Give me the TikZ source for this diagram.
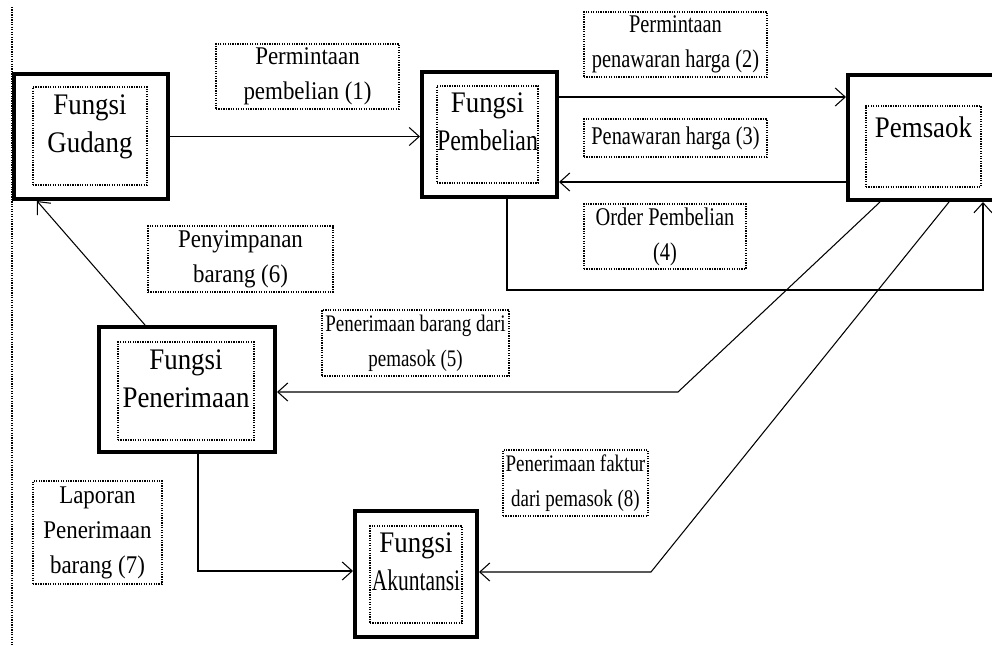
\documentclass[tikz,border=0pt]{standalone}
\usepackage{fontspec}
\setmainfont{Liberation Serif}[FakeStretch=0.9]
\newfontfamily\condensed{Liberation Serif}[FakeStretch=0.8]
\newfontfamily\tight{Liberation Serif}[FakeStretch=0.72]
\usetikzlibrary{arrows.meta,positioning,calc}

\begin{document}
\begin{tikzpicture}[x=0.02cm, y=-0.02cm,
  fungsi/.style={rectangle, draw, line width=2.3pt, inner sep=0pt, minimum height=2.5cm},
  fungsitext/.style={rectangle, draw, line width=0.6pt, dash pattern=on 0.7pt off 0.7pt, inner sep=0pt, align=center, font=\fontsize{17}{21.5}\selectfont},
  note/.style={rectangle, draw, line width=0.6pt, dash pattern=on 0.7pt off 0.7pt, inner sep=0pt, align=center, font=\fontsize{14.5}{19.9}\selectfont},
  message/.style={-{Straight Barb[length=2mm,width=3.6mm]}, line width=0.6pt}
]
\useasboundingbox (0,0) rectangle (992,646);
\clip (0,0) rectangle (992,646);

% Page margin
\draw[line width=0.6pt, dash pattern=on 0.7pt off 0.7pt] (12,7) -- (12,646);

% Functions
\node[fungsi, minimum width=3.08cm] (gudang) at (91,136.5) {};
\node[fungsitext, minimum width=2.28cm, minimum height=1.96cm] (gudangtxt) at (90,136) {Fungsi\\Gudang\\[-7pt]~};

\node[fungsi, minimum width=2.7cm] (pembelian) at (489.5,134.5) {};
\node[fungsitext, minimum width=2.02cm, minimum height=1.94cm] (pembeliantxt) at (487.5,134.5) {Fungsi\\{\condensed Pembelian}\\[-7pt]~};

\node[fungsi, minimum width=3.8cm] (pemsaok) at (943,137.5) {};
\node[fungsitext, minimum width=2.3cm, minimum height=1.62cm] (pemsaoktxt) at (923.5,146.5) {Pemsaok\\~};

\node[fungsi, minimum width=3.52cm] (penerimaan) at (187,389.5) {};
\node[fungsitext, minimum width=2.72cm, minimum height=1.96cm] (penerimaantxt) at (186,391) {Fungsi\\Penerimaan\\[-7pt]~};

\node[fungsi, minimum width=2.44cm, minimum height=2.52cm] (akuntansi) at (416,574) {};
\node[fungsitext, minimum width=1.84cm, minimum height=1.94cm] (akuntansitxt) at (416,574.5) {Fungsi\\{\tight Akuntansi}\\[-7pt]~};

% Notes
\node[note, minimum width=3.66cm, minimum height=1.3cm] (n1) at (307.5,76.5) {Permintaan\\pembelian (1)};
\node[note, minimum width=3.66cm, minimum height=1.3cm, font=\condensed\fontsize{14.5}{19.9}\selectfont] (n2) at (675.5,44.5) {Permintaan\\penawaran harga (2)};
\node[note, minimum width=3.66cm, minimum height=0.76cm, font=\condensed\fontsize{14.5}{19.9}\selectfont] (n3) at (675.5,138) {Penawaran harga (3)};
\node[note, minimum width=3.24cm, minimum height=1.3cm, font=\condensed\fontsize{14.5}{19.9}\selectfont] (n4) at (665,236.5) {Order Pembelian\\(4)};
\node[note, minimum width=3.74cm, minimum height=1.32cm, font=\condensed\fontsize{13.5}{19.9}\selectfont] (n5) at (415.5,343) {Penerimaan barang dari\\pemasok (5)};
\node[note, minimum width=3.7cm, minimum height=1.32cm] (n6) at (240.5,259) {Penyimpanan\\barang (6)};
\node[note, minimum width=2.58cm, minimum height=2.06cm] (n7) at (97.5,532.5) {Laporan\\Penerimaan\\barang (7)};
\node[note, minimum width=2.9cm, minimum height=1.32cm, font=\condensed\fontsize{13.5}{19.9}\selectfont] (n8) at (575.5,483) {Penerimaan faktur\\dari pemasok (8)};

% Bends
\coordinate (a2) at (0,97);
\coordinate (a3) at (0,182);
\coordinate (k4a) at (507,290);
\coordinate (k4b) at (983,290);
\coordinate (s5) at (880,200);
\coordinate (k5) at (678,392);
\coordinate (s6) at (145,328);
\coordinate (e6) at (37,200);
\coordinate (k7) at (198,571);
\coordinate (s8) at (949,200);
\coordinate (k8) at (651,572);

% Flows
\draw[message] (gudang.east) -- (gudang.east -| pembelian.west);
\draw[message] (pembelian.east |- a2) -- (pemsaok.west |- a2);
\draw[message] (pemsaok.west |- a3) -- (pembelian.east |- a3);
\draw[message] (pembelian.south -| k4a) -- (k4a) -- (k4b) -- (k4b |- pemsaok.south);
\draw[message] (pemsaok.south -| s5) -- (k5) -- (penerimaan.east |- k5);
\draw[message] (penerimaan.north -| s6) -- (gudang.south -| e6);
\draw[message] (penerimaan.south -| k7) -- (k7) -- (k7 -| akuntansi.west);
\draw[message] (pemsaok.south -| s8) -- (k8) -- (k8 -| akuntansi.east);

\end{tikzpicture}
\end{document}
